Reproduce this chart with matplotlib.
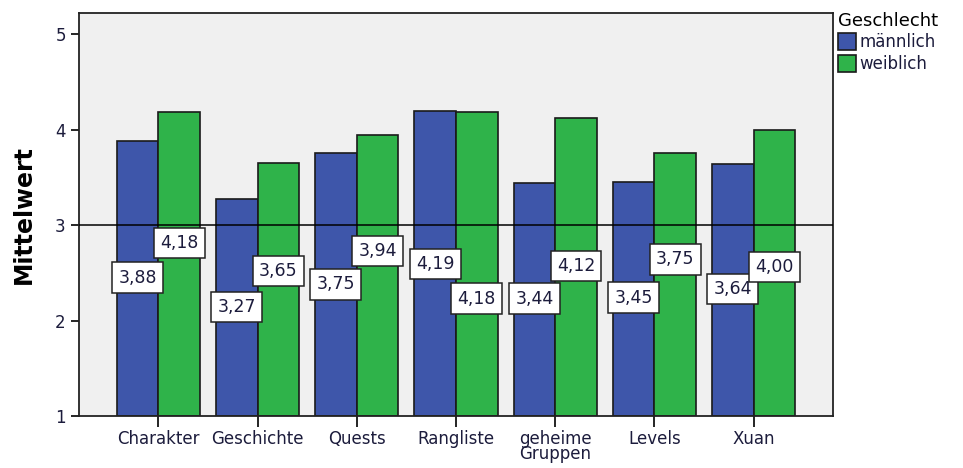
import matplotlib.pyplot as plt
import numpy as np

categories = ["Charakter", "Geschichte", "Quests", "Rangliste", "geheime\nGruppen", "Levels", "Xuan"]
maennlich = [3.88, 3.27, 3.75, 4.19, 3.44, 3.45, 3.64]
weiblich = [4.18, 3.65, 3.94, 4.18, 4.12, 3.75, 4.00]
series_names = ["männlich", "weiblich"]

# where SPSS put the value boxes (data units on the y axis)
label_y_m = [2.45, 2.14, 2.38, 2.59, 2.23, 2.24, 2.33]
label_y_w = [2.81, 2.52, 2.73, 2.23, 2.57, 2.64, 2.56]

BLUE = "#3e56aa"
GREEN = "#2fb34a"
TEXT = "#1c1c3c"

fig = plt.figure(figsize=(9.63, 4.68), dpi=100)
ax = fig.add_axes([0.082, 0.111, 0.783, 0.861])
ax.set_facecolor("#f0f0f0")

x = np.arange(len(categories))
w = 0.42
base = 1
bars_m = ax.bar(x - w / 2, np.array(maennlich) - base, w, bottom=base, color=BLUE,
                edgecolor="#1a1a1a", linewidth=1.2, label=series_names[0], zorder=2)
bars_w = ax.bar(x + w / 2, np.array(weiblich) - base, w, bottom=base, color=GREEN,
                edgecolor="#1a1a1a", linewidth=1.2, label=series_names[1], zorder=2)

ax.axhline(3, color="black", linewidth=1.1, zorder=3)

box = dict(boxstyle="square,pad=0.36", facecolor="white", edgecolor="#222222", linewidth=1.1)
for xs, vals, ys in [(x - w / 2, maennlich, label_y_m), (x + w / 2, weiblich, label_y_w)]:
    for xi, v, yi in zip(xs, vals, ys):
        ax.text(xi, yi, f"{v:.2f}".replace(".", ","), ha="center", va="center",
                fontsize=12.5, color=TEXT, bbox=box, zorder=4)

ax.set_xlim(-0.8, 6.8)
ax.set_ylim(1, 5.22)
ax.set_yticks([1, 2, 3, 4, 5])
ax.set_xticks(x)
ax.set_xticklabels(categories, fontsize=12, color=TEXT, linespacing=0.8)
ax.tick_params(axis="y", labelsize=12, labelcolor=TEXT, length=6, width=1.2)
ax.tick_params(axis="x", length=8, width=1.2, pad=2)
for s in ax.spines.values():
    s.set_linewidth(1.3)
    s.set_color("#222222")

ax.set_ylabel("Mittelwert", fontsize=17, fontweight="bold", labelpad=14)

leg = fig.legend(handles=[bars_m, bars_w], labels=series_names, title="Geschlecht",
                 loc="upper left", bbox_to_anchor=(0.858, 1.0), frameon=False,
                 fontsize=12, title_fontsize=13, handlelength=1.1, handleheight=1.15,
                 handletextpad=0.2, labelspacing=0.22, borderpad=0.2, alignment="left")
for t in leg.get_texts():
    t.set_color(TEXT)

fig.savefig("out.png", dpi=100)
